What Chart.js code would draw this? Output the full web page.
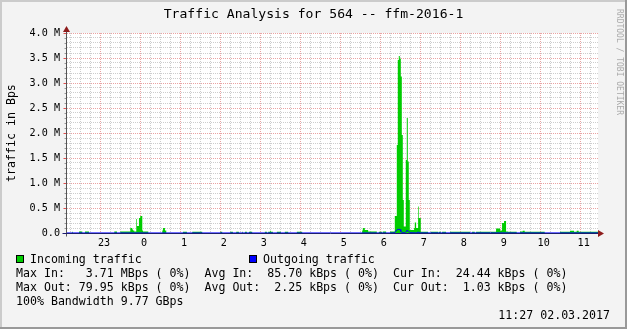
<!DOCTYPE html>
<html>
<head>
<meta charset="utf-8">
<script src="https://cdn.jsdelivr.net/npm/chart.js@4"></script>
<style>
  html, body { margin: 0; padding: 0; background: #f3f3f3; }
  #wrap { position: relative; width: 627px; height: 329px; overflow: hidden;
          font-family: "DejaVu Sans Mono", monospace; color: #000; }
  #wrap canvas { position: absolute; left: 0; top: 0; }
  .t { position: absolute; white-space: pre; line-height: 14px; height: 14px; }
  .box { position: absolute; width: 8px; height: 8px; box-sizing: border-box; border: 1px solid #000; }
</style>
</head>
<body>
<div id="wrap">
  <canvas id="rrd" width="627" height="329"></canvas>
  <div class="t" style="left:0;top:7px;width:627px;text-align:center;font-size:13.1px;">Traffic Analysis for 564 -- ffm-2016-1</div>
  <div class="t" style="left:-49px;top:126px;width:120px;text-align:center;font-size:11.6px;transform:rotate(-90deg);">traffic in Bps</div>
  <div class="t" style="left:559px;top:55px;width:120px;text-align:center;font-size:8px;color:#ababab;transform:rotate(90deg);">RRDTOOL / TOBI OETIKER</div>

  <div class="box" style="left:16px;top:255px;background:#00cc00;"></div>
  <div class="t" style="left:30px;top:252px;font-size:11.6px;">Incoming traffic</div>
  <div class="box" style="left:249px;top:255px;background:#0000ff;"></div>
  <div class="t" style="left:263px;top:252px;font-size:11.6px;">Outgoing traffic</div>
  <div class="t" style="left:16px;top:266px;font-size:11.6px;">Max In:   3.71 MBps ( 0%)  Avg In:  85.70 kBps ( 0%)  Cur In:  24.44 kBps ( 0%)</div>
  <div class="t" style="left:16px;top:280px;font-size:11.6px;">Max Out: 79.95 kBps ( 0%)  Avg Out:  2.25 kBps ( 0%)  Cur Out:  1.03 kBps ( 0%)</div>
  <div class="t" style="left:16px;top:294px;font-size:11.6px;">100% Bandwidth 9.77 GBps</div>
  <div class="t" style="right:17px;top:308px;font-size:11.6px;">11:27 02.03.2017</div>
</div>

<script>
// time window shown (22:09 yesterday .. 11:26 today)
const xStart = '22:09';
const xEnd = '11:26';

// y axis: MBps
const yMax = 4.0;
const yStep = 0.1;

// incoming traffic, MBps, each value holds until the next time
const inTimes = [
  '22:09','22:17','22:18','22:27','22:32','22:36','22:42','23:20','23:24','23:29',
  '23:44','23:47','23:48','23:50','23:53','23:54','23:57','23:59','00:02','00:03',
  '00:11','00:32','00:33','00:36','00:38','01:03','01:09','01:17','01:32','01:59',
  '02:02','02:14','02:18','02:23','02:27','02:32','02:33','02:36','02:39','02:42',
  '02:47','03:06','03:09','03:11','03:14','03:15','03:18','03:24','03:30','03:36',
  '03:41','03:54','04:02','05:32','05:33','05:36','05:41','05:54','05:57','06:02',
  '06:03','06:08','06:14','06:21:00','06:24:00','06:25:30','06:27:00','06:28:30','06:30:00','06:31:30',
  '06:33:00','06:34:30','06:37:30','06:39:00','06:40:30','06:42:00','06:43:30','06:50','06:51','06:53',
  '06:56','06:57','07:00','07:11','07:15','07:26','07:27','07:30','07:32','07:38',
  '07:44','08:14','08:17','08:21','08:23','08:44','08:45','08:53','08:59','09:02',
  '09:05','09:08','09:11','09:24','09:29','09:33','09:36','10:06','10:29','10:44',
  '10:50','10:54','10:57','11:27'
];
const inValues = [
  0,     0.025, 0,     0.03,  0,     0.03,  0,     0.03,  0,     0.03,
  0.10,  0.07,  0.05,  0.03,  0.28,  0.14,  0.30,  0.34,  0.05,  0.03,
  0,     0.05,  0.10,  0.05,  0,     0.025, 0,     0.025, 0,     0.025,
  0,     0.025, 0,     0.025, 0,     0.025, 0,     0.025, 0,     0.025,
  0,     0.025, 0,     0.025, 0.045, 0.025, 0,     0.025, 0,     0.025,
  0,     0.025, 0,     0.05,  0.10,  0.06,  0.03,  0,     0.025, 0,
  0.03,  0,     0.03,  0.34,  1.76,  3.46,  3.54,  3.49,  3.13,  1.96,
  0.66,  0.13,  1.46,  2.30,  1.43,  0.66,  0.06,  0.10,  0.21,  0.10,
  0.53,  0.30,  0.025, 0,     0.025, 0,     0.025, 0,     0.025, 0,
  0.025, 0,     0.025, 0,     0.025, 0,     0.025, 0.09,  0.05,  0.20,
  0.24,  0.03,  0.025, 0,     0.03,  0.045, 0.025, 0,     0.025, 0.045,
  0.025, 0.045, 0.025, 0.025
];

// outgoing traffic, MBps
const outTimes = ['22:09','06:18','06:21','06:24','06:26','06:29','06:30','06:33','06:36',
                  '06:38','06:39','06:41','06:44','06:54','06:56','06:59','11:27'];
const outValues = [0.001, 0.001, 0.01, 0.06, 0.075, 0.07, 0.03, 0.005, 0.003,
                   0.03, 0.05, 0.045, 0.005, 0.002, 0.02, 0.002, 0.001];

// "HH:MM[:SS]" -> hours on a running scale (times before noon belong to the next day)
function toHours(t) {
  const [h, m, s = 0] = t.split(':').map(Number);
  const v = h + m / 60 + s / 3600;
  return v < 12 ? v + 24 : v;
}

const xMin = toHours(xStart);
const xMax = toHours(xEnd);

const majorGrid = '#eaa3a3';
const minorGrid = '#cdcdcd';
const axisFont = { family: 'DejaVu Sans Mono', size: 10.15 };

const rrdLook = {
  id: 'rrdLook',
  beforeDraw(chart) {
    const { ctx, chartArea: a } = chart;
    ctx.save();
    ctx.fillStyle = '#f3f3f3';
    ctx.fillRect(0, 0, 627, 329);
    // shaded frame
    ctx.fillStyle = '#cbcbcb';
    ctx.fillRect(0, 0, 627, 2);
    ctx.fillRect(0, 0, 2, 329);
    ctx.fillStyle = '#999999';
    ctx.fillRect(0, 327, 627, 2);
    ctx.fillRect(625, 0, 2, 329);
    // canvas
    ctx.fillStyle = '#ffffff';
    ctx.fillRect(a.left, a.top, a.right - a.left, a.bottom - a.top);
    ctx.restore();
  },
  afterDraw(chart) {
    const { ctx, chartArea: a, scales } = chart;
    const y0 = Math.round(scales.y.getPixelForValue(0)) + 0.5;
    const x0 = Math.round(scales.x.getPixelForValue(xMin)) - 0.5;
    ctx.save();
    ctx.lineWidth = 1;
    // ticks left of the y axis
    for (let i = 1; i <= Math.round(yMax / yStep); i++) {
      const py = Math.round(scales.y.getPixelForValue(i * yStep)) + 0.5;
      ctx.strokeStyle = i % 5 === 0 ? '#de5050' : '#9a9a9a';
      ctx.beginPath();
      ctx.moveTo(x0 - (i % 5 === 0 ? 3 : 2), py);
      ctx.lineTo(x0, py);
      ctx.stroke();
    }
    // y axis
    ctx.strokeStyle = '#555555';
    ctx.beginPath();
    ctx.moveTo(x0, y0 + 3);
    ctx.lineTo(x0, a.top - 4);
    ctx.stroke();
    // x axis
    ctx.strokeStyle = '#1c1c70';
    ctx.beginPath();
    ctx.moveTo(x0 - 4, y0);
    ctx.lineTo(a.right + 1, y0);
    ctx.stroke();
    // arrows
    ctx.fillStyle = '#8e1c1c';
    ctx.beginPath();
    ctx.moveTo(x0 - 3.5, a.top - 1);
    ctx.lineTo(x0 + 3.5, a.top - 1);
    ctx.lineTo(x0, a.top - 7);
    ctx.closePath();
    ctx.fill();
    ctx.beginPath();
    ctx.moveTo(a.right, y0 - 3.5);
    ctx.lineTo(a.right, y0 + 3.5);
    ctx.lineTo(a.right + 6, y0);
    ctx.closePath();
    ctx.fill();
    ctx.restore();
  }
};

new Chart(document.getElementById('rrd'), {
  type: 'line',
  data: {
    datasets: [
      {
        label: 'Outgoing traffic',
        data: outTimes.map((t, i) => ({ x: toHours(t), y: outValues[i] })),
        borderColor: '#0000ff',
        borderWidth: 1,
        pointRadius: 0,
        fill: false,
        tension: 0,
        order: 0
      },
      {
        label: 'Incoming traffic',
        data: inTimes.map((t, i) => ({ x: toHours(t), y: inValues[i] })),
        stepped: 'before',
        fill: 'origin',
        backgroundColor: '#00cc00',
        borderColor: 'transparent',
        borderWidth: 0,
        pointRadius: 0,
        order: 1
      }
    ]
  },
  options: {
    responsive: false,
    animation: false,
    events: [],
    layout: { padding: { left: 7, right: 29, top: 33, bottom: 76 } },
    plugins: { legend: { display: false }, tooltip: { enabled: false } },
    scales: {
      x: {
        type: 'linear',
        min: xMin,
        max: xMax,
        afterBuildTicks: scale => {
          const ticks = [];
          for (let q = Math.ceil(xMin * 4); q <= Math.floor(xMax * 4); q++) ticks.push({ value: q / 4 });
          scale.ticks = ticks;
        },
        afterFit: scale => { scale.height = 20; },
        grid: {
          drawTicks: false,
          color: ctx => (ctx.tick && Number.isInteger(ctx.tick.value)) ? majorGrid : minorGrid
        },
        border: { display: false, dash: [1, 1] },
        ticks: {
          autoSkip: false,
          maxRotation: 0,
          padding: 4,
          labelOffset: 3,
          color: '#000',
          font: axisFont,
          callback: v => Number.isInteger(v) ? String(v % 24) : ''
        }
      },
      y: {
        min: 0,
        max: yMax,
        afterBuildTicks: scale => {
          const ticks = [];
          for (let i = 0; i <= Math.round(yMax / yStep); i++) ticks.push({ value: i * yStep });
          scale.ticks = ticks;
        },
        afterFit: scale => { scale.width = 60; },
        grid: {
          drawTicks: false,
          color: ctx => {
            if (!ctx.tick) return minorGrid;
            const i = Math.round(ctx.tick.value / yStep);
            if (i === 0) return 'transparent';
            return i % 5 === 0 ? majorGrid : minorGrid;
          }
        },
        border: { display: false, dash: [1, 1] },
        ticks: {
          autoSkip: false,
          padding: 7,
          color: '#000',
          font: axisFont,
          callback: v => {
            const i = Math.round(v / yStep);
            if (i % 5 !== 0) return '';
            return i === 0 ? '0.0' : (i * yStep).toFixed(1) + ' M';
          }
        }
      }
    }
  },
  plugins: [rrdLook]
});
</script>
</body>
</html>
